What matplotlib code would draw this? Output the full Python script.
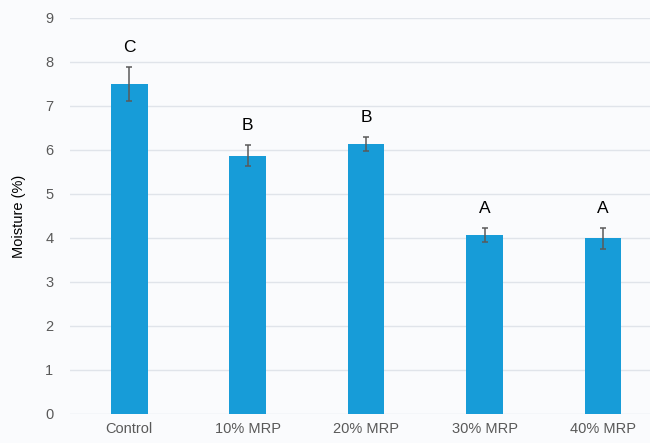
import numpy as np
import matplotlib.pyplot as plt

plt.rcParams['font.family'] = ['Liberation Sans', 'DejaVu Sans']

groups = ["Control", "10% MRP", "20% MRP", "30% MRP", "40% MRP"]
moisture = [7.5, 5.87, 6.13, 4.06, 3.99]
errors = [0.38, 0.24, 0.16, 0.16, 0.23]
letters = ["C", "B", "B", "A", "A"]

bg = "#fafbfd"
fig = plt.figure(figsize=(6.5, 4.43), dpi=100, facecolor=bg)
ax = fig.add_axes([0.1077, 0.0655, 0.911, 0.894], facecolor=bg)

x = np.arange(len(groups))
ax.bar(x, moisture, width=0.31, color="#179cd8", zorder=2)
ax.errorbar(x, moisture, yerr=errors, fmt="none", ecolor="#5a5a5a",
            elinewidth=1.1, capsize=2.5, capthick=1.1, zorder=3)
for xi, v, e, t in zip(x, moisture, errors, letters):
    ax.text(xi, v + e + 0.44, t, ha="center", va="center", fontsize=12.5, color="black")

ax.set_xlim(-0.5, 4.5)
ax.set_ylim(0, 9)
ax.set_yticks(range(10))
ax.set_xticks(x)
ax.set_xticklabels(groups)
ax.grid(axis="y", color="#e0e4ea", linewidth=1, zorder=0)
for s in ax.spines.values():
    s.set_visible(False)
ax.tick_params(length=0, colors="#595959", labelsize=10.5)
ax.tick_params(axis="y", pad=12)
ax.tick_params(axis="x", pad=6)
ax.set_ylabel("Moisture (%)", fontsize=10.5, color="black", labelpad=14)

fig.savefig("out.png", dpi=100, facecolor=bg)
